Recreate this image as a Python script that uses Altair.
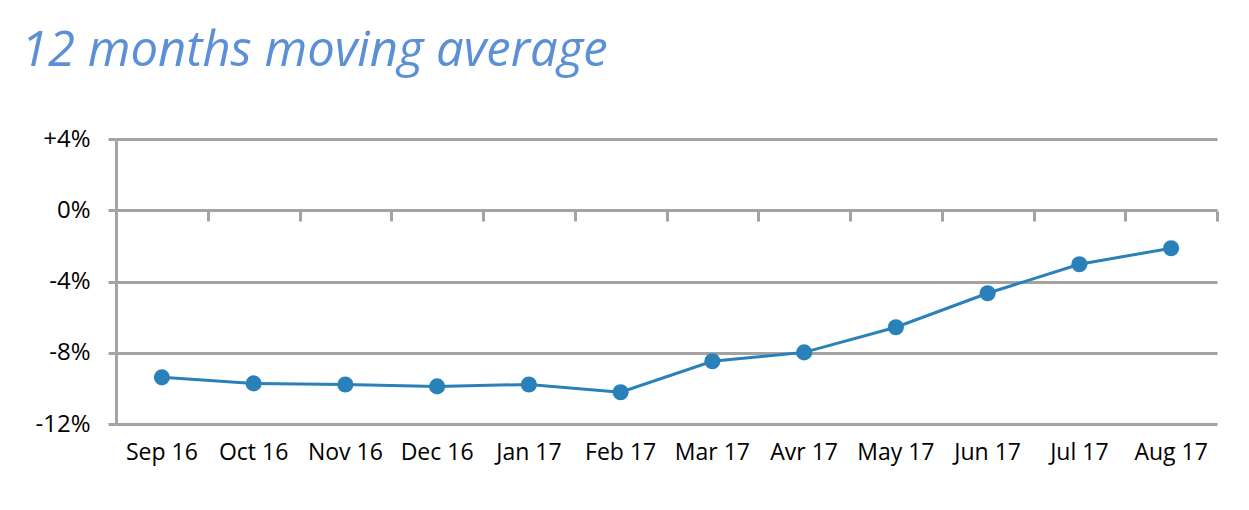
import altair as alt
import pandas as pd

months = ["Sep 16", "Oct 16", "Nov 16", "Dec 16", "Jan 17", "Feb 17",
          "Mar 17", "Avr 17", "May 17", "Jun 17", "Jul 17", "Aug 17"]
values = [-9.38, -9.72, -9.78, -9.89, -9.78, -10.22,
          -8.48, -7.98, -6.57, -4.66, -3.03, -2.13]
y_ticks = [-12, -8, -4, 0, 4]

df = pd.DataFrame({"month": months, "value": values})

GRID = "#A3A3A3"
LINE = "#2A80B9"
FONT = "Open Sans"

xscale = alt.Scale(domain=months, paddingInner=0, paddingOuter=0)
yscale = alt.Scale(domain=[-12, 4], nice=False, zero=False)


def yaxis():
    return alt.Axis(
        values=y_ticks,
        labelExpr="datum.value > 0 ? '+' + datum.value + '%' : datum.value + '%'",
        title=None, grid=True, gridColor=GRID, gridWidth=3,
        domainColor=GRID, domainWidth=3, tickColor=GRID, tickWidth=3, tickSize=8,
        labelFont=FONT, labelFontSize=24, labelColor="#000000", labelPadding=18,
    )


base = alt.Chart(df)

line = base.mark_line(color=LINE, strokeWidth=3).encode(
    x=alt.X("month:N", scale=xscale, sort=months,
            axis=alt.Axis(title=None, labelAngle=0, domain=False, ticks=False, grid=False,
                          labelFont=FONT, labelFontSize=23, labelColor="#000000",
                          labelPadding=17)),
    y=alt.Y("value:Q", scale=yscale, axis=yaxis()),
)

points = base.mark_circle(color=LINE, size=260, opacity=1).encode(
    x=alt.X("month:N", scale=xscale, sort=months,
            axis=alt.Axis(title=None, orient="bottom", offset=-213, labels=False,
                          domain=False, grid=False, ticks=True, tickBand="extent",
                          tickColor=GRID, tickWidth=3, tickSize=10)),
    y=alt.Y("value:Q", scale=yscale, axis=yaxis()),
)

chart = alt.layer(line, points).resolve_axis(x="independent").properties(
    width=1101, height=285,
    autosize=alt.AutoSizeParams(type="none"),
    padding={"left": 116, "top": 139, "right": 32, "bottom": 86},
    title=alt.TitleParams(
        "12 months moving average", anchor="start", frame="group", dx=-95, offset=51,
        font=FONT, fontSize=49, fontStyle="italic", fontWeight="normal",
        color="#5B8FD6",
    ),
).configure_view(stroke=None)

chart.save("out.html", embed_options={"renderer": "svg", "actions": False})
